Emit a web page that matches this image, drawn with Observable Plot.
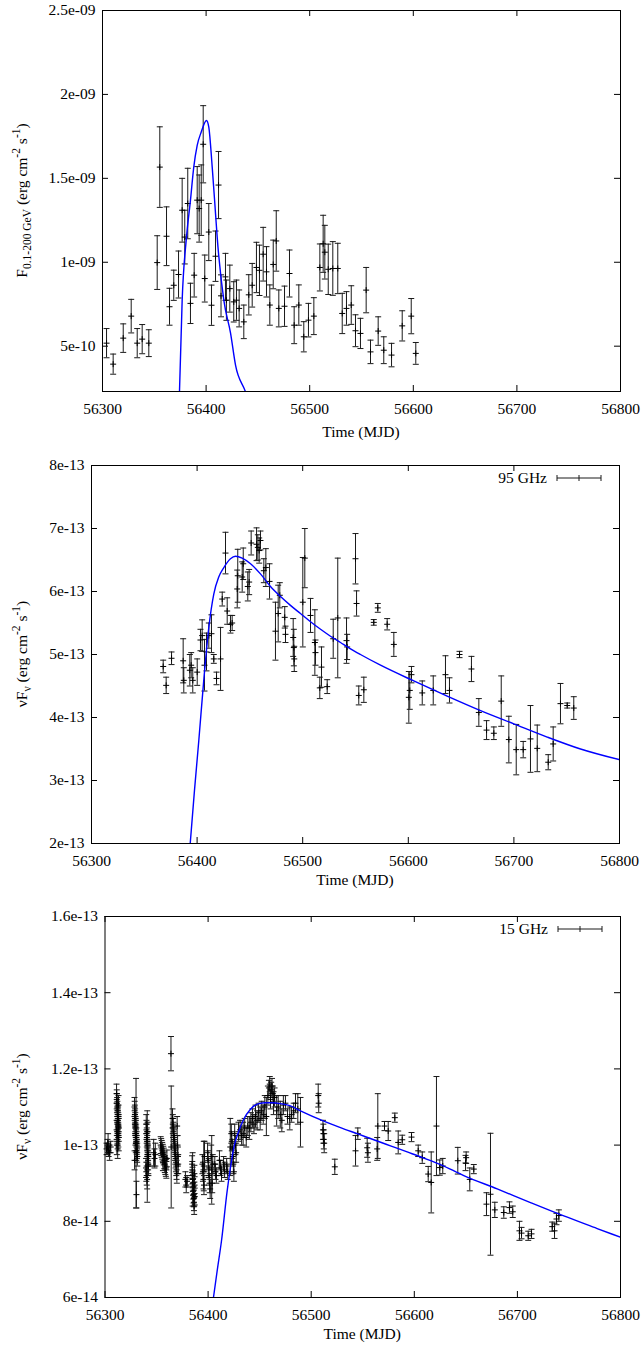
<!DOCTYPE html>
<html><head><meta charset="utf-8">
<script src="https://cdn.jsdelivr.net/npm/d3@7"></script>
<script src="https://cdn.jsdelivr.net/npm/@observablehq/plot@0.6"></script>
<style>
html,body{margin:0;padding:0;background:#fff;}
#chart svg{display:block;}
</style></head>
<body><div id="chart"></div>
<script>
// ---------- shared axis data ----------
const xTicks = [56300, 56400, 56500, 56600, 56700, 56800];
const xTickLabels = ["56300", "56400", "56500", "56600", "56700", "56800"];

// ---------- panel 1 : Fermi-LAT F(0.1-200 GeV), units of 1e-10 erg cm^-2 s^-1 ----------
const fermiTicks = [5, 10, 15, 20, 25];
const fermiTickLabels = ["5e-10", "1e-09", "1.5e-09", "2e-09", "2.5e-09"];
const fermiMJD = [56303.9, 56310.3, 56320.0, 56327.7, 56333.5, 56338.3, 56344.7, 56352.8, 56355.3, 56361.8,
  56364.7, 56368.8, 56373.4, 56376.9, 56379.4, 56382.3, 56384.9, 56388.5, 56391.4, 56393.3,
  56395.3, 56397.2, 56398.7, 56402.6, 56405.2, 56409.1, 56412.0, 56414.4, 56418.7, 56419.6,
  56422.9, 56426.7, 56429.3, 56431.9, 56436.4, 56441.2, 56444.5, 56448.6, 56451.5, 56455.1,
  56458.3, 56461.5, 56464.8, 56467.7, 56470.2, 56475.7, 56480.5, 56485.0, 56489.5, 56494.3,
  56498.8, 56504.0, 56509.8, 56513.0, 56514.6, 56517.9, 56522.3, 56527.1, 56531.4, 56535.5,
  56540.1, 56544.2, 56549.0, 56554.5, 56558.7, 56566.1, 56571.5, 56579.0, 56589.3, 56598.0, 56602.4];
const fermiFlux = [5.18, 3.93, 5.48, 6.79, 5.18, 5.42, 5.18, 9.98, 15.67, 11.55,
  7.35, 8.63, 9.27, 13.1, 11.5, 13.5, 7.55, 9.23, 13.7, 13.2,
  13.7, 17.03, 9.03, 11.8, 7.44, 10.36, 14.6, 8.0, 9.13, 7.74,
  8.43, 7.64, 7.74, 7.25, 6.45, 8.06, 8.63, 9.69, 9.52, 10.48,
  9.43, 7.45, 9.87, 11.27, 7.25, 7.38, 9.33, 6.25, 7.45, 5.56,
  6.55, 6.79, 9.69, 11.1, 10.6, 9.58, 9.63, 9.63, 6.95, 7.25,
  7.45, 5.92, 5.76, 8.34, 4.66, 5.9, 4.76, 4.47, 6.21, 6.79, 4.57];
const fermiErr = [0.87, 0.6, 0.85, 1.0, 0.87, 0.87, 0.8, 1.6, 2.4, 1.75,
  1.1, 0.9, 1.4, 1.9, 1.6, 2.1, 1.2, 1.3, 2.0, 2.0,
  2.1, 2.3, 1.4, 1.7, 1.2, 1.5, 2.0, 1.25, 1.4, 1.2,
  1.4, 1.2, 1.2, 1.1, 1.0, 1.2, 1.3, 1.5, 1.5, 1.6,
  1.5, 1.2, 1.45, 1.8, 1.1, 1.2, 1.4, 1.1, 1.2, 0.9,
  1.0, 1.1, 1.4, 1.7, 1.6, 1.5, 1.6, 1.5, 1.2, 1.0,
  1.15, 0.95, 0.9, 1.35, 0.7, 0.85, 0.8, 0.7, 0.9, 1.05, 0.65];
const fermiModelMJD = [56373.6, 56374.3, 56376.9, 56381.1, 56384.9, 56388.1, 56391.4, 56395.3, 56400.4, 56402.6,
  56405.9, 56409.1, 56410.7, 56417.1, 56423.6, 56428.4, 56438.0, 56440.0];
const fermiModelFlux = [0.5, 2.28, 7.74, 11.51, 13.69, 15.67, 16.96, 17.76, 18.45, 18.05,
  15.67, 12.9, 11.5, 7.74, 5.78, 3.87, 2.28, 1.9];

// ---------- panel 2 : 95 GHz nuFnu, units of 1e-13 ----------
const mmTicks = [2, 3, 4, 5, 6, 7, 8];
const mmTickLabels = ["2e-13", "3e-13", "4e-13", "5e-13", "6e-13", "7e-13", "8e-13"];
const mjd95 = [56367.9, 56370.7, 56375.8, 56386.8, 56387.4, 56393.1, 56394.4, 56395.9, 56400.1, 56403.2,
  56404.8, 56407.0, 56408.9, 56411.1, 56413.6, 56415.8, 56418.4, 56422.2, 56423.8, 56426.9,
  56428.5, 56431.6, 56433.2, 56438.5, 56438.0, 56442.7, 56443.7, 56448.0, 56449.3, 56451.2,
  56456.3, 56457.5, 56458.8, 56460.0, 56463.2, 56465.1, 56468.6, 56474.2, 56476.8, 56478.3,
  56483.0, 56483.7, 56491.0, 56491.6, 56492.0, 56500.1, 56502.0, 56507.4, 56511.5, 56512.1,
  56516.2, 56517.8, 56523.2, 56528.9, 56533.2, 56541.5, 56542.1, 56550.0, 56551.0, 56553.1,
  56557.9, 56567.3, 56571.1, 56580.0, 56586.3, 56600.5, 56601.4, 56603.0, 56613.2, 56623.6,
  56635.2, 56639.0, 56648.5, 56659.8, 56666.8, 56674.1, 56681.0, 56688.0, 56695.2, 56702.2,
  56708.8, 56715.7, 56722.1, 56732.5, 56737.2, 56744.1, 56750.5, 56756.7];
const flux95 = [4.81, 4.51, 4.94, 4.90, 4.59, 4.75, 4.83, 4.59, 4.72, 5.23,
  5.30, 4.83, 5.04, 5.30, 5.33, 4.93, 4.62, 4.93, 5.88, 6.61,
  5.69, 5.48, 5.50, 6.25, 6.04, 6.23, 6.44, 6.08, 6.15, 6.77,
  6.75, 6.70, 6.65, 6.81, 6.33, 6.38, 6.16, 5.37, 5.65, 5.94,
  5.59, 5.32, 5.27, 5.11, 4.93, 5.83, 6.53, 5.62, 5.19, 5.03,
  4.47, 4.80, 4.49, 5.25, 5.58, 5.22, 5.12, 6.52, 5.81, 4.35,
  4.44, 5.51, 5.74, 5.48, 5.16, 4.32, 4.43, 4.68, 4.39, 4.43,
  4.68, 4.43, 5.00, 4.77, 4.08, 3.80, 3.75, 4.26, 3.65, 3.49,
  3.49, 3.66, 3.51, 3.29, 3.58, 4.22, 4.19, 4.15];
const err95 = [0.10, 0.13, 0.10, 0.35, 0.20, 0.25, 0.20, 0.20, 0.21, 0.17,
  0.25, 0.41, 0.30, 0.20, 0.30, 0.07, 0.10, 0.50, 0.11, 0.33,
  0.21, 0.14, 0.12, 0.42, 0.30, 0.24, 0.25, 0.23, 0.20, 0.19,
  0.26, 0.20, 0.20, 0.15, 0.19, 0.30, 0.28, 0.46, 0.45, 0.20,
  0.17, 0.13, 0.30, 0.29, 0.20, 0.71, 0.47, 0.27, 0.52, 0.20,
  0.17, 0.32, 0.11, 0.31, 0.95, 0.36, 0.20, 0.40, 0.20, 0.15,
  0.20, 0.045, 0.07, 0.09, 0.19, 0.41, 0.30, 0.13, 0.19, 0.23,
  0.30, 0.20, 0.05, 0.20, 0.22, 0.15, 0.10, 0.40, 0.37, 0.40,
  0.13, 0.53, 0.37, 0.12, 0.27, 0.32, 0.04, 0.18];
const model95MJD = [56393.0, 56397.5, 56401.6, 56406.3, 56411.1, 56415.8, 56420.5, 56425.3, 56431.6, 56436.4,
  56442.7, 56450.6, 56460.0, 56469.5, 56479.0, 56488.4, 56497.9, 56507.4, 56516.9, 56526.3,
  56535.8, 56545.3, 56554.7, 56573.7, 56605.2, 56636.8, 56668.4, 56699.9, 56731.5, 56763.1, 56800.0];
const model95Flux = [1.9, 2.84, 3.63, 4.59, 5.43, 5.96, 6.23, 6.38, 6.52, 6.56,
  6.53, 6.44, 6.28, 6.08, 5.92, 5.78, 5.65, 5.52, 5.40, 5.29,
  5.19, 5.09, 5.00, 4.83, 4.58, 4.34, 4.11, 3.90, 3.69, 3.50, 3.33];

// ---------- panel 3 : 15 GHz nuFnu, units of 1e-14 ; rows [MJD, flux, error] ----------
const cmTicks = [6, 8, 10, 12, 14, 16];
const cmTickLabels = ["6e-14", "8e-14", "1e-13", "1.2e-13", "1.4e-13", "1.6e-13"];
const obs15 = [
  [56301.5, 9.90, 0.15], [56302.5, 9.95, 0.20], [56303.0, 10.05, 0.25], [56303.5, 9.85, 0.15], [56304.5, 9.80, 0.20], [56305.5, 9.95, 0.15],
  [56311.2, 11.35, 0.25], [56311.4, 11.20, 0.25], [56311.6, 11.10, 0.25], [56311.8, 11.00, 0.25], [56312.0, 10.90, 0.25], [56312.2, 10.80, 0.25],
  [56312.4, 10.70, 0.25], [56312.6, 10.65, 0.25], [56312.8, 10.60, 0.25], [56313.0, 10.55, 0.25], [56313.2, 10.50, 0.25], [56313.4, 10.45, 0.25],
  [56311.3, 10.40, 0.25], [56311.7, 10.35, 0.25], [56312.1, 10.30, 0.25], [56312.5, 10.25, 0.25], [56312.9, 10.20, 0.25], [56313.3, 10.10, 0.25],
  [56311.5, 10.00, 0.25], [56312.3, 9.90, 0.25], [56312.7, 10.75, 0.25], [56313.1, 11.05, 0.25],
  [56328.6, 11.00, 0.25], [56328.8, 10.90, 0.25], [56329.0, 10.80, 0.25], [56329.2, 10.70, 0.25], [56329.4, 10.60, 0.25], [56329.6, 10.50, 0.25],
  [56329.8, 10.45, 0.25], [56330.0, 10.40, 0.25], [56330.2, 10.30, 0.25], [56330.4, 10.20, 0.25], [56330.6, 10.10, 0.25], [56330.8, 10.00, 0.25],
  [56331.0, 9.90, 0.25], [56331.2, 9.80, 0.25], [56331.4, 9.70, 0.25], [56328.7, 9.60, 0.25], [56329.1, 10.55, 0.25], [56329.5, 10.25, 0.25],
  [56329.9, 10.05, 0.25], [56330.3, 9.85, 0.25], [56330.1, 10.05, 1.70], [56330.5, 8.70, 0.35],
  [56340.0, 10.55, 0.25], [56340.2, 10.40, 0.25], [56340.4, 10.30, 0.25], [56340.6, 10.20, 0.25], [56340.8, 10.10, 0.25], [56341.0, 10.00, 0.25],
  [56341.2, 9.90, 0.25], [56341.4, 9.80, 0.25], [56341.6, 9.70, 0.25], [56341.8, 9.60, 0.25], [56342.0, 9.50, 0.25], [56339.8, 9.40, 0.25],
  [56340.1, 9.30, 0.25], [56340.5, 9.20, 0.25], [56340.9, 9.10, 0.25], [56341.3, 10.35, 0.25], [56341.7, 9.75, 0.25], [56342.1, 9.45, 0.25],
  [56341.0, 9.70, 1.20],
  [56347.2, 9.80, 0.35], [56348.0, 9.65, 0.25], [56348.8, 9.75, 0.30],
  [56354.0, 10.00, 0.22], [56354.5, 9.95, 0.22], [56355.0, 9.90, 0.22], [56355.5, 9.85, 0.22], [56356.0, 9.80, 0.22], [56356.5, 9.75, 0.22],
  [56357.0, 9.70, 0.22], [56357.5, 9.60, 0.22], [56358.0, 9.50, 0.22], [56358.5, 9.45, 0.22], [56359.0, 9.40, 0.22], [56359.5, 9.35, 0.22],
  [56360.0, 9.65, 0.22], [56356.2, 9.55, 0.22],
  [56364.0, 12.40, 0.45], [56364.2, 9.95, 1.60],
  [56365.5, 10.70, 0.25], [56365.8, 10.55, 0.25], [56366.1, 10.45, 0.25], [56366.4, 10.35, 0.25], [56366.7, 10.25, 0.25], [56367.0, 10.15, 0.25],
  [56367.3, 10.05, 0.25], [56367.6, 9.95, 0.25], [56367.9, 9.85, 0.25], [56368.2, 9.75, 0.25], [56368.5, 9.65, 0.25], [56368.8, 9.55, 0.25],
  [56369.1, 9.45, 0.25], [56369.4, 9.35, 0.25], [56369.7, 9.25, 0.25], [56370.0, 10.50, 0.25], [56370.4, 10.00, 0.25], [56370.7, 9.70, 0.25],
  [56371.0, 9.50, 0.25],
  [56378.0, 9.10, 0.20], [56378.8, 8.95, 0.20], [56379.6, 9.05, 0.15],
  [56384.5, 9.50, 0.22], [56384.7, 9.35, 0.22], [56384.9, 9.20, 0.22], [56385.1, 9.10, 0.22], [56385.3, 9.00, 0.22], [56385.5, 8.90, 0.22],
  [56385.7, 8.80, 0.22], [56385.9, 8.70, 0.22], [56386.1, 8.60, 0.22], [56386.3, 8.50, 0.22], [56386.5, 8.40, 0.22], [56386.7, 9.25, 0.22],
  [56386.9, 8.95, 0.22], [56387.0, 8.65, 0.22], [56385.0, 9.10, 0.70],
  [56394.5, 9.50, 0.25], [56395.0, 9.30, 0.25], [56395.5, 9.10, 0.25], [56396.0, 8.95, 0.25], [56396.5, 9.70, 0.40], [56395.8, 9.45, 0.65],
  [56399.5, 9.80, 0.25], [56400.0, 9.60, 0.25], [56400.5, 9.40, 0.25], [56401.0, 9.20, 0.25], [56401.5, 9.00, 0.25], [56402.0, 8.85, 0.25],
  [56403.0, 9.70, 0.30], [56403.5, 9.35, 0.90], [56404.0, 9.00, 0.25], [56404.5, 9.50, 0.25],
  [56406.5, 9.50, 0.20], [56407.2, 9.30, 0.20], [56408.0, 9.20, 0.20],
  [56411.0, 9.60, 0.25], [56412.0, 9.40, 0.20], [56413.0, 9.25, 0.20],
  [56415.0, 9.50, 0.20], [56416.0, 9.35, 0.20], [56418.0, 9.45, 0.20], [56419.0, 9.30, 0.20],
  [56421.5, 9.95, 0.75], [56422.5, 10.30, 0.25], [56423.0, 10.10, 0.25], [56423.5, 9.90, 0.25], [56424.0, 9.70, 0.25], [56424.5, 9.50, 0.25],
  [56425.0, 9.30, 0.25], [56425.8, 10.30, 0.25], [56426.5, 10.00, 0.25], [56427.2, 9.80, 0.25],
  [56429.5, 10.35, 0.25], [56431.0, 10.40, 0.25], [56432.5, 10.25, 0.25], [56434.0, 10.30, 0.30], [56435.5, 10.45, 0.25], [56437.0, 10.20, 0.25],
  [56438.5, 10.50, 0.25], [56440.0, 10.45, 0.30], [56441.5, 10.60, 0.25], [56443.0, 10.70, 0.25], [56444.5, 10.55, 0.25], [56446.0, 10.75, 0.30],
  [56447.5, 10.65, 0.25], [56449.0, 10.85, 0.25], [56450.5, 10.70, 0.30], [56452.0, 10.90, 0.25], [56453.5, 10.80, 0.25], [56455.0, 11.00, 0.30],
  [56456.5, 10.75, 0.50], [56458.0, 11.30, 0.25], [56459.0, 11.50, 0.20], [56459.8, 11.60, 0.20], [56460.5, 11.20, 0.25], [56461.2, 11.45, 0.20],
  [56462.0, 11.55, 0.20], [56462.8, 11.35, 0.20], [56463.5, 11.10, 0.30], [56464.5, 11.25, 0.25],
  [56466.5, 10.90, 0.40], [56468.0, 11.00, 0.30], [56470.0, 10.80, 0.35], [56471.5, 10.65, 0.30], [56473.0, 11.05, 0.25], [56475.0, 11.10, 0.20],
  [56477.0, 10.75, 0.20], [56479.2, 10.70, 0.30], [56481.0, 10.80, 0.20], [56483.0, 10.90, 0.20], [56484.8, 11.10, 0.25], [56487.0, 10.95, 0.40],
  [56489.6, 10.60, 0.65],
  [56506.8, 11.30, 0.30], [56507.3, 11.10, 0.25],
  [56511.4, 10.40, 0.25], [56511.8, 10.30, 0.25], [56512.2, 10.15, 0.25], [56512.6, 10.05, 0.25],
  [56522.9, 9.43, 0.20], [56543.0, 9.85, 0.40], [56545.2, 10.30, 0.15], [56554.3, 9.93, 0.25], [56555.0, 9.80, 0.25],
  [56564.0, 9.90, 0.30], [56564.6, 10.50, 0.85], [56571.1, 10.50, 0.12], [56574.7, 10.37, 0.25], [56581.1, 10.72, 0.12],
  [56584.4, 10.07, 0.30], [56588.3, 10.14, 0.12], [56597.3, 10.21, 0.12], [56603.8, 9.85, 0.15], [56607.7, 9.67, 0.15],
  [56613.5, 9.24, 0.20], [56616.4, 9.02, 0.80], [56621.5, 10.50, 1.30], [56624.7, 9.41, 0.20], [56627.6, 9.45, 0.20],
  [56642.2, 9.59, 0.35], [56649.7, 9.53, 0.20], [56650.3, 9.67, 0.15], [56653.8, 9.10, 0.30], [56657.7, 9.37, 0.12],
  [56670.0, 8.45, 0.30], [56673.9, 8.71, 1.60], [56678.1, 8.30, 0.20], [56686.8, 8.23, 0.15], [56692.3, 8.36, 0.15],
  [56695.5, 8.25, 0.15], [56702.0, 7.75, 0.25], [56704.0, 7.69, 0.15], [56710.5, 7.62, 0.12], [56713.7, 7.67, 0.12],
  [56733.8, 7.86, 0.12], [56736.0, 7.75, 0.20], [56737.9, 8.06, 0.15], [56740.2, 8.15, 0.15]
];
const model15MJD = [56405.2, 56409.1, 56413.0, 56418.5, 56421.7, 56424.9, 56429.8, 56434.6, 56441.1, 56449.2,
  56455.7, 56462.2, 56470.2, 56479.9, 56489.6, 56512.2, 56528.4, 56544.6, 56560.7, 56576.9,
  56593.1, 56609.2, 56625.4, 56648.0, 56680.4, 56712.7, 56745.0, 56777.4, 56800.0];
const model15Flux = [6.0, 6.76, 7.49, 8.8, 9.41, 9.93, 10.37, 10.68, 10.94, 11.09,
  11.11, 11.11, 11.09, 11.03, 10.9, 10.63, 10.46, 10.3, 10.14, 9.98,
  9.82, 9.66, 9.49, 9.2, 8.85, 8.49, 8.14, 7.81, 7.58];

// ---------- drawing ----------
const W = 642;
const FONT = "Liberation Serif";
const FS = 15.5;
const INK = "#1a1a1a";
const capSym = {draw(ctx) { ctx.moveTo(-3, 0); ctx.lineTo(3, 0); }};
const plusSym = {draw(ctx) { ctx.moveTo(-3, 0); ctx.lineTo(3, 0); ctx.moveTo(0, -3); ctx.lineTo(0, 3); }};

function rowsFrom(t, v, e) {
  const n = Math.min(t.length, v.length, e ? e.length : Infinity);
  return d3.range(n).map(i => ({t: t[i], v: v[i], e: e ? e[i] : 0}));
}

function errorMarks(data) {
  return [
    Plot.ruleX(data, {x: "t", y1: d => d.v - d.e, y2: d => d.v + d.e, stroke: INK, strokeWidth: 1}),
    Plot.dot(data, {x: "t", y: d => d.v - d.e, symbol: capSym, stroke: INK, fill: "none", strokeWidth: 1}),
    Plot.dot(data, {x: "t", y: d => d.v + d.e, symbol: capSym, stroke: INK, fill: "none", strokeWidth: 1}),
    Plot.dot(data, {x: "t", y: "v", symbol: plusSym, stroke: "#000", fill: "none", strokeWidth: 1})
  ];
}

function addRich(sel, parts) {
  let cur = 0;
  for (const [txt, kind] of parts) {
    const target = kind === "sub" ? 4 : kind === "sup" ? -7 : 0;
    const ts = sel.append("tspan").attr("dy", target - cur).text(txt);
    if (kind !== "n") ts.attr("font-size", 11.5);
    cur = target;
  }
}

function panel(cfg) {
  const {height, mt, mb, ml, mr, yDomain, yTicks, yLabels, data, model, titleParts, xTitleDy, legend} = cfg;
  const pw = W - ml - mr, ph = height - mt - mb, tl = 6;
  const xMap = new Map(xTicks.map((d, i) => [d, xTickLabels[i]]));
  const yMap = new Map(yTicks.map((d, i) => [d, yLabels[i]]));
  const svg = Plot.plot({
    width: W, height,
    marginTop: mt, marginBottom: mb, marginLeft: ml, marginRight: mr,
    style: {fontFamily: FONT, fontSize: FS + "px", color: "black", background: "white", overflow: "visible"},
    x: {domain: [56300, 56800]},
    y: {domain: yDomain},
    marks: [
      Plot.tickX(xTicks, {x: d => d, insetTop: ph - tl, stroke: "black"}),
      Plot.tickX(xTicks, {x: d => d, insetBottom: ph - tl, stroke: "black"}),
      Plot.tickY(yTicks, {y: d => d, insetRight: pw - tl, stroke: "black"}),
      Plot.tickY(yTicks, {y: d => d, insetLeft: pw - tl, stroke: "black"}),
      Plot.axisX(xTicks, {tickSize: 0, tickPadding: 11, tickFormat: d => xMap.get(d), label: null}),
      Plot.axisY(yTicks, {tickSize: 0, tickPadding: 7, tickFormat: d => yMap.get(d), label: null}),
      ...errorMarks(data),
      Plot.line(model, {x: "t", y: "v", stroke: "#0000ff", strokeWidth: 1.4, curve: "monotone-x", clip: true}),
      Plot.frame({stroke: "black", strokeWidth: 1})
    ]
  });
  const s = d3.select(svg);
  const yt = s.append("text")
    .attr("transform", `translate(27,${mt + ph / 2}) rotate(-90)`)
    .attr("text-anchor", "middle").attr("font-family", FONT).attr("font-size", FS)
    .attr("fill", "black").style("white-space", "pre");
  addRich(yt, titleParts);
  s.append("text").attr("x", ml + pw / 2).attr("y", mt + ph + xTitleDy)
    .attr("text-anchor", "middle").attr("font-family", FONT).attr("font-size", FS)
    .attr("fill", "black").text("Time (MJD)");
  if (legend) {
    const cy = mt + 13, x1 = W - mr - 62, x2 = W - mr - 18;
    s.append("text").attr("x", x1 - 10).attr("y", cy + 5).attr("text-anchor", "end")
      .attr("font-family", FONT).attr("font-size", FS).attr("fill", "black").text(legend);
    const g = s.append("g").attr("stroke", INK).attr("stroke-width", 1);
    g.append("line").attr("x1", x1).attr("x2", x2).attr("y1", cy).attr("y2", cy);
    g.append("line").attr("x1", x1).attr("x2", x1).attr("y1", cy - 3).attr("y2", cy + 3);
    g.append("line").attr("x1", x2).attr("x2", x2).attr("y1", cy - 3).attr("y2", cy + 3);
    g.append("line").attr("x1", (x1 + x2) / 2).attr("x2", (x1 + x2) / 2).attr("y1", cy - 3).attr("y2", cy + 3);
  }
  return svg;
}

const fluxTitle = [[" (erg cm", "n"], ["-2", "sup"], [" s", "n"], ["-1", "sup"], [")", "n"]];

const p1 = panel({
  height: 447, mt: 10, mb: 56, ml: 102, mr: 22,
  yDomain: [2.3, 25], yTicks: fermiTicks, yLabels: fermiTickLabels,
  data: rowsFrom(fermiMJD, fermiFlux, fermiErr),
  model: rowsFrom(fermiModelMJD, fermiModelFlux),
  titleParts: [["F", "n"], ["0.1-200 GeV", "sub"], ...fluxTitle],
  xTitleDy: 46, legend: null
});
const p2 = panel({
  height: 448, mt: 18, mb: 52, ml: 91, mr: 23,
  yDomain: [2, 8], yTicks: mmTicks, yLabels: mmTickLabels,
  data: rowsFrom(mjd95, flux95, err95),
  model: rowsFrom(model95MJD, model95Flux),
  titleParts: [["\u03BDF", "n"], ["\u03BD", "sub"], ...fluxTitle],
  xTitleDy: 42, legend: "95 GHz"
});
const p3 = panel({
  height: 453, mt: 21, mb: 51, ml: 104.5, mr: 22,
  yDomain: [6, 16], yTicks: cmTicks, yLabels: cmTickLabels,
  data: obs15.map(([t, v, e]) => ({t, v, e})),
  model: rowsFrom(model15MJD, model15Flux),
  titleParts: [["\u03BDF", "n"], ["\u03BD", "sub"], ...fluxTitle],
  xTitleDy: 42, legend: "15 GHz"
});
document.getElementById("chart").append(p1, p2, p3);
</script>
</body></html>
